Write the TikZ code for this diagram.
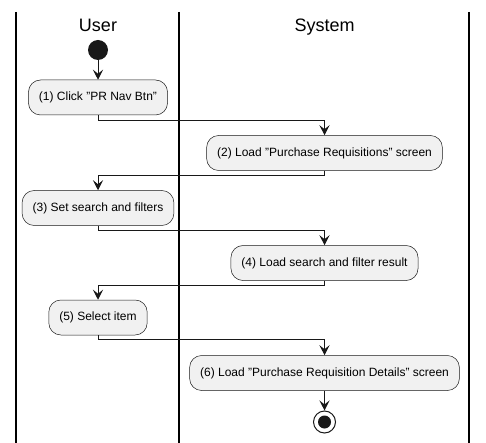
\documentclass[tikz,border=0pt]{standalone}
\usepackage{fontspec}
\setmainfont{Liberation Sans}
\usetikzlibrary{arrows.meta}
\definecolor{linecol}{HTML}{181818}
\definecolor{boxfill}{HTML}{F1F1F1}

\begin{document}
\begin{tikzpicture}[x=1pt,y=-1pt,
    action/.style={draw=linecol, line width=0.5pt, fill=boxfill, rounded corners=12pt,
      minimum height=35pt, inner xsep=10.5pt, font=\fontsize{12}{14}\selectfont},
    flow/.style={draw=linecol, line width=1pt, -{Stealth[length=10pt,width=10pt,inset=4pt]}},
    lane/.style={line width=1.5pt},
    title/.style={font=\fontsize{18}{21}\selectfont, anchor=base}]
  \useasboundingbox (0,0) rectangle (486,443);

  % swimlanes
  \foreach \x in {16,179,469}
    \draw[lane] (\x,12) -- (\x,443);
  \node[title] (user) at (98,32) {User};
  \node[title] (system) at (324.5,32) {System};

  \node[circle, fill=linecol, minimum size=20pt, inner sep=0pt] (start) at (98,50) {};
  \node[action] (a1) at (98,97.5) {(1) Click "PR Nav Btn"};
  \node[action] (a2) at (324.5,153) {(2) Load "Purchase Requisitions" screen};
  \node[action] (a3) at (98,208) {(3) Set search and filters};
  \node[action] (a4) at (324.5,263) {(4) Load search and filter result};
  \node[action] (a5) at (98,317.5) {(5) Select item};
  \node[action] (a6) at (324.5,373) {(6) Load "Purchase Requisition Details" screen};
  \node[circle, draw=linecol, line width=1pt, fill=white, minimum size=22pt, inner sep=0pt] (stop) at (324.5,422) {};
  \node[circle, fill=linecol, minimum size=13pt, inner sep=0pt] (stopdot) at (stop) {};

  \draw[flow] (start) -- (a1);
  \draw[flow] (a1.south) -- ++(0,5.5) -| (a2.north);
  \draw[flow] (a2.south) -- ++(0,4.5) -| (a3.north);
  \draw[flow] (a3.south) -- ++(0,4.5) -| (a4.north);
  \draw[flow] (a4.south) -- ++(0,4.5) -| (a5.north);
  \draw[flow] (a5.south) -- ++(0,4.5) -| (a6.north);
  \draw[flow] (a6.south) -- (stop);
\end{tikzpicture}
\end{document}
